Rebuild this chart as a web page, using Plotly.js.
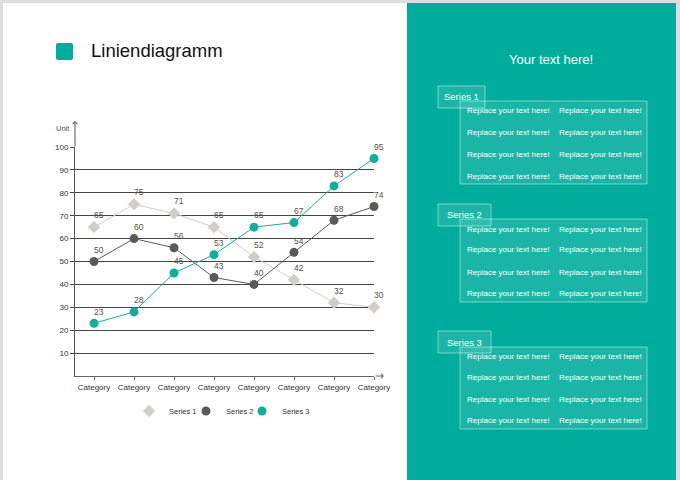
<!DOCTYPE html>
<html><head><meta charset="utf-8">
<script src="https://cdn.plot.ly/plotly-3.0.1.min.js"></script>
<style>html,body{margin:0;padding:0;background:#fff}#chart{width:680px;height:480px}</style>
</head><body><div id="chart"></div>
<script>
// ---- data ----
const categories = ["Category","Category","Category","Category","Category","Category","Category","Category"];
const series1 = [65, 75, 71, 65, 52, 42, 32, 30];
const series2 = [50, 60, 56, 43, 40, 54, 68, 74];
const series3 = [23, 28, 45, 53, 65, 67, 83, 95];
const seriesNames = ["Series 1", "Series 2", "Series 3"];
const yTicks = [10, 20, 30, 40, 50, 60, 70, 80, 90, 100];
const chartTitle = "Liniendiagramm";
const unitLabel = "Unit";
const panelTitle = "Your text here!";
const panelLabels = ["Series 1", "Series 2", "Series 3"];
const panelText = "Replace your text here!";

// ---- layout helpers ----
const W = 680, H = 480;
const px = x => x / W;
const py = y => (H - y) / H;
const TEAL = '#00ad9c';
const xIdx = categories.map((_, i) => i);
const PAD = '&nbsp;&nbsp;&nbsp;&nbsp;';
const FONT = 'Liberation Sans, Arial, sans-serif';

const labelFont = {family: FONT, size: 8.5, color: '#5b4e44'};
const styles = [
  {color:'#d2cdc8', symbol:'diamond', size:9.5},
  {color:'#5a5a5a', symbol:'circle', size:9},
  {color:'#13ad9d', symbol:'circle', size:9}
];
const legendIds = ['legend', 'legend2', 'legend3'];
const legendX = [129, 186, 242];
function trace(k, vals) {
  const s = styles[k];
  return {
    type: 'scatter', mode: 'lines+markers+text', name: seriesNames[k], showlegend: false,
    x: xIdx, y: vals, text: vals.map(v => PAD + v), textposition: 'top center',
    textfont: labelFont, cliponaxis: false,
    line: {color: s.color, width: 1},
    marker: {color: s.color, size: s.size, symbol: s.symbol}
  };
}
function legendEntry(k) {
  const s = styles[k];
  return {type:'scatter', mode:'markers', name: seriesNames[k], x:[null], y:[null], legend: legendIds[k],
    marker:{color:s.color, size:s.size, symbol:s.symbol}};
}
const data = [
  trace(0, series1), trace(1, series2), trace(2, series3),
  legendEntry(0), legendEntry(1), legendEntry(2)
];

const shapes = [
  {type:'rect', xref:'paper', yref:'paper', x0:0, x1:1, y0:0, y1:1, fillcolor:'#dedede', line:{width:0}, layer:'below'},
  {type:'rect', xref:'paper', yref:'paper', x0:px(3), x1:px(407), y0:py(480), y1:py(3), fillcolor:'#ffffff', line:{width:0}, layer:'below'},
  {type:'rect', xref:'paper', yref:'paper', x0:px(407), x1:px(676), y0:py(480), y1:py(3), fillcolor:TEAL, line:{width:0}, layer:'below'},
  {type:'path', xref:'paper', yref:'paper', layer:'below', fillcolor:TEAL, line:{width:0},
   path: `M ${px(58)} ${py(43)} L ${px(71)} ${py(43)} Q ${px(73)} ${py(43)} ${px(73)} ${py(45)} L ${px(73)} ${py(58)} Q ${px(73)} ${py(60)} ${px(71)} ${py(60)} L ${px(58)} ${py(60)} Q ${px(56)} ${py(60)} ${px(56)} ${py(58)} L ${px(56)} ${py(45)} Q ${px(56)} ${py(43)} ${px(58)} ${py(43)} Z`}
];
const annotations = [
  {xref:'paper', yref:'paper', x:px(89), y:py(51), xanchor:'left', yanchor:'middle', showarrow:false,
   text: chartTitle, font:{family:FONT, size:18.5, color:'#111'}},
  {xref:'paper', yref:'paper', x:px(72), y:py(128), xanchor:'right', yanchor:'middle', showarrow:false,
   text: unitLabel, font:{family:FONT, size:7.5, color:'#5b4e44'}},
  {xref:'paper', yref:'paper', x:px(384), y:py(376), ax:-10, ay:0, showarrow:true, arrowhead:4, arrowsize:0.9, arrowwidth:1, arrowcolor:'#666', text:''},
  {xref:'paper', yref:'paper', x:px(75), y:py(121), ax:0, ay:27, showarrow:true, arrowhead:4, arrowsize:0.9, arrowwidth:1, arrowcolor:'#555', text:''},
  {xref:'paper', yref:'paper', x:px(551), y:py(59), xanchor:'center', yanchor:'middle', showarrow:false,
   text: panelTitle, font:{family:FONT, size:13, color:'#ffffff'}}
];

const boxes = [
  {lab:[438,485,86,108], big:[460,647,101,184], rows:[111,132,154,176]},
  {lab:[438,491,204,226], big:[460,647,219,302], rows:[229,250,272,293]},
  {lab:[438,491,331,353], big:[460,647,347,429], rows:[356,377,399,420]}
];
boxes.forEach((b, k) => {
  shapes.push({type:'rect', xref:'paper', yref:'paper', x0:px(b.big[0]), x1:px(b.big[1]), y0:py(b.big[3]), y1:py(b.big[2]),
    fillcolor:'rgba(255,255,255,0.10)', line:{color:'rgba(255,255,255,0.45)', width:1}});
  shapes.push({type:'rect', xref:'paper', yref:'paper', x0:px(b.lab[0]), x1:px(b.lab[1]), y0:py(b.lab[3]), y1:py(b.lab[2]),
    fillcolor:'rgba(255,255,255,0.10)', line:{color:'rgba(255,255,255,0.45)', width:1}});
  annotations.push({xref:'paper', yref:'paper', x:px((b.lab[0]+b.lab[1])/2), y:py((b.lab[2]+b.lab[3])/2), xanchor:'center', yanchor:'middle',
    showarrow:false, text: panelLabels[k], font:{family:FONT, size:9.5, color:'#ffffff'}});
  b.rows.forEach(r => {
    [465, 557].forEach(cx => {
      annotations.push({xref:'paper', yref:'paper', x:px(cx), y:py(r), xanchor:'left', yanchor:'middle', showarrow:false,
        text: panelText, font:{family:FONT, size:8, color:'#ffffff'}});
    });
  });
});

const layout = {
  width: W, height: H, margin: {l:0, r:0, t:0, b:0},
  paper_bgcolor: '#ffffff', plot_bgcolor: 'rgba(0,0,0,0)',
  showlegend: true,
  xaxis: {domain:[px(75), px(374)], range:[-0.475, 7], tickvals: xIdx, ticktext: categories,
    showgrid:false, zeroline:false, showline:true, linecolor:'#666', linewidth:1,
    ticks:'outside', ticklen:3, tickcolor:'#666',
    tickfont:{family:FONT, size:8, color:'#333'}},
  yaxis: {domain:[py(376), py(147)], range:[0, 100], tickvals: yTicks,
    showgrid:true, gridcolor:'#444', gridwidth:1, zeroline:false, showline:true, linecolor:'#555', linewidth:1,
    ticks:'outside', ticklen:4, tickcolor:'#444',
    tickfont:{family:FONT, size:8, color:'#333'}},
  shapes: shapes,
  annotations: annotations
};
legendIds.forEach((id, k) => {
  layout[id] = {orientation:'h', x:px(legendX[k]), y:py(411), xanchor:'left', yanchor:'middle',
    font:{family:FONT, size:7.5, color:'#333'}, bgcolor:'rgba(0,0,0,0)', itemwidth:30};
});
Plotly.newPlot('chart', data, layout, {displayModeBar:false, staticPlot:true});
</script>
</body></html>
